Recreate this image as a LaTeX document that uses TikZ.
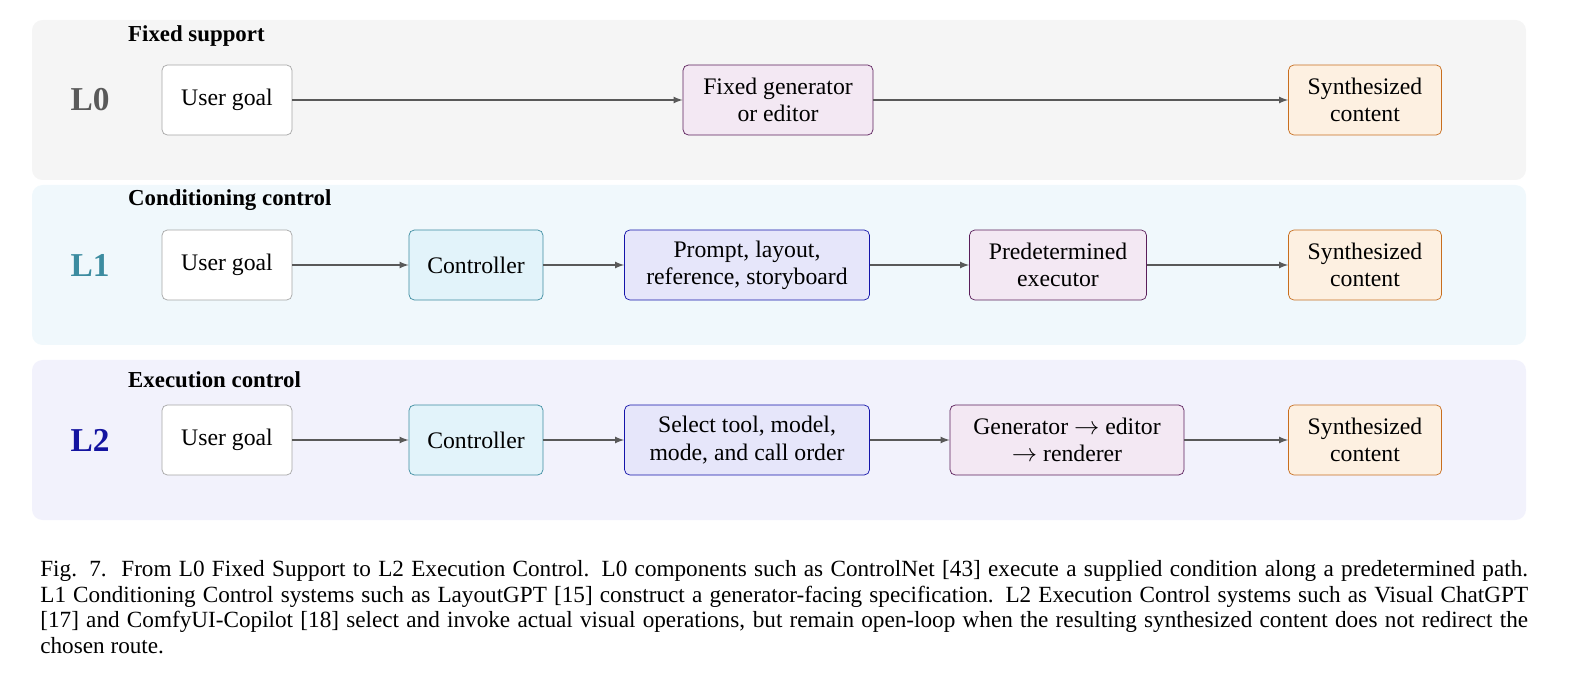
\documentclass[tikz,border=0pt]{standalone}
\usepackage{fontspec}
\setmainfont{Liberation Serif}
\definecolor{panelgray}{RGB}{245,245,245}
\definecolor{panelcyan}{RGB}{240,248,252}
\definecolor{panelblue}{RGB}{242,242,252}
\definecolor{ctrlfill}{RGB}{226,243,250}
\definecolor{ctrldraw}{RGB}{60,140,160}
\definecolor{specfill}{RGB}{230,230,250}
\definecolor{specdraw}{RGB}{20,20,170}
\definecolor{execfill}{RGB}{243,232,243}
\definecolor{execdraw}{RGB}{90,30,90}
\definecolor{outfill}{RGB}{253,240,225}
\definecolor{outdraw}{RGB}{200,110,30}
\definecolor{lzero}{RGB}{90,90,90}
\definecolor{ltwo}{RGB}{20,20,160}
\tikzset{
  box/.style={draw, rounded corners=3pt, minimum height=1.4cm, align=center, font=\fontsize{13.5}{15.5}\selectfont},
  goalbox/.style={box, draw=gray!70, fill=white, minimum width=2.6cm},
  ctrlbox/.style={box, draw=ctrldraw, fill=ctrlfill, minimum width=2.68cm},
  specbox/.style={box, draw=specdraw, fill=specfill, minimum width=4.9cm},
  execbox/.style={box, draw=execdraw, fill=execfill},
  outbox/.style={box, draw=outdraw, fill=outfill, minimum width=3.06cm},
  panel/.style={rounded corners=6pt},
  level/.style={font=\fontsize{19}{21}\selectfont\bfseries},
  title/.style={anchor=west, font=\fontsize{13}{15}\selectfont\bfseries},
  flow/.style={->, >=latex, draw=black!65, line width=0.8pt}
}
\begin{document}
\begin{tikzpicture}[x=0.02cm,y=-0.02cm]
    \useasboundingbox (0,0) rectangle (1574,678);
    % panels
    \fill[panel, panelgray] (32,20) rectangle (1526,180);
    \fill[panel, panelcyan] (32,185) rectangle (1526,345);
    \fill[panel, panelblue] (32,360) rectangle (1526,520);
    \node[title] (t0) at (122,36) {Fixed support};
    \node[title] (t1) at (122,200) {Conditioning control};
    \node[title] (t2) at (122,380) {Execution control};
    \node[level, text=lzero] (lab0) at (90,100) {L0};
    \node[level, text=ctrldraw] (lab1) at (90,265) {L1};
    \node[level, text=ltwo] (lab2) at (90,440) {L2};
    % L0
    \node[goalbox] (goal0) at (227,100) {User goal};
    \node[execbox, minimum width=3.8cm] (fixed) at (778,100) {Fixed generator\\or editor};
    \node[outbox] (out0) at (1365,100) {Synthesized\\content};
    \draw[flow] (goal0) -- (fixed);
    \draw[flow] (fixed) -- (out0);
    % L1
    \node[goalbox] (goal1) at (227,265) {User goal};
    \node[ctrlbox] (ctrl1) at (476,265) {Controller};
    \node[specbox] (spec1) at (747,265) {Prompt, layout,\\reference, storyboard};
    \node[execbox, minimum width=3.54cm] (exec1) at (1058,265) {Predetermined\\executor};
    \node[outbox] (out1) at (1365,265) {Synthesized\\content};
    \draw[flow] (goal1) -- (ctrl1);
    \draw[flow] (ctrl1) -- (spec1);
    \draw[flow] (spec1) -- (exec1);
    \draw[flow] (exec1) -- (out1);
    % L2
    \node[goalbox] (goal2) at (227,440) {User goal};
    \node[ctrlbox] (ctrl2) at (476,440) {Controller};
    \node[specbox] (spec2) at (747,440) {Select tool, model,\\mode, and call order};
    \node[execbox, minimum width=4.68cm] (exec2) at (1067,440) {Generator $\rightarrow$ editor\\$\rightarrow$ renderer};
    \node[outbox] (out2) at (1365,440) {Synthesized\\content};
    \draw[flow] (goal2) -- (ctrl2);
    \draw[flow] (ctrl2) -- (spec2);
    \draw[flow] (spec2) -- (exec2);
    \draw[flow] (exec2) -- (out2);
    % caption
    \node[anchor=north west, text width=29.76cm, align=justify, inner sep=0pt,
          font=\fontsize{13.2}{14.6}\selectfont] (caption) at (40,560)
      {Fig. 7.\ \ From L0 Fixed Support to L2 Execution Control. L0 components such as ControlNet [43] execute a supplied condition along a predetermined path. L1 Conditioning Control systems such as LayoutGPT [15] construct a generator-facing specification. L2 Execution Control systems such as Visual ChatGPT [17] and ComfyUI-Copilot [18] select and invoke actual visual operations, but remain open-loop when the resulting synthesized content does not redirect the\linebreak chosen route.};
\end{tikzpicture}
\end{document}
